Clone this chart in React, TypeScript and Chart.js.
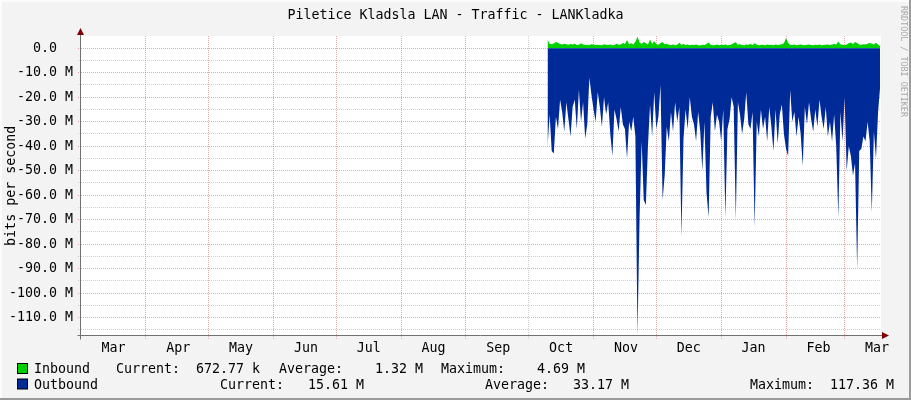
import React, { useEffect, useRef } from 'react';
import { Chart, registerables } from 'chart.js';

Chart.register(...registerables);

// ---------- text ----------
const TITLE = 'Piletice Kladsla LAN - Traffic - LANKladka';
const Y_TITLE = 'bits per second';
const WATERMARK = 'RRDTOOL / TOBI OETIKER';

// ---------- x axis (days since 1 March of the first year) ----------
const X_MAX_DAY = 382.4;
const MONTH_START_DAYS = [31, 61, 92, 122, 153, 184, 214, 245, 275, 306, 337, 365];
const GREY_MONTH_DAYS = [214];
const MONTH_LABELS = ['Mar', 'Apr', 'May', 'Jun', 'Jul', 'Aug', 'Sep', 'Oct', 'Nov', 'Dec', 'Jan', 'Feb', 'Mar'];
const MONTH_LABEL_DAYS = [15.5, 46.5, 76.5, 107.5, 137.5, 168.5, 199.5, 229.5, 260.5, 290.5, 321.5, 352.5, 380.5];

// ---------- y axis (M bits per second) ----------
const Y_MIN = -117.36;
const Y_MAX = 5;
const Y_TICKS = [0, -5, -10, -15, -20, -25, -30, -35, -40, -45, -50, -55, -60, -65, -70, -75, -80, -85, -90, -95, -100, -105, -110, -115];

// ---------- data: one value per day, first day = 223 ----------
const DATA_START_DAY = 223;
const INBOUND = [
  3.6, 1.8, 1.6, 1.9, 2.5, 2.2, 1.7, 1.5, 1.8, 1.6,
  1.4, 1.7, 1.5, 1.8, 1.3, 1.4, 2.0, 1.5, 1.3, 1.4,
  1.3, 1.6, 1.5, 1.3, 1.4, 1.3, 1.2, 1.6, 1.4, 1.3,
  1.5, 1.2, 1.3, 1.8, 1.4, 1.5, 2.1, 1.7, 3.4, 1.6,
  2.0, 1.5, 2.7, 4.69, 2.3, 1.8, 2.5, 2.0, 1.5, 3.6,
  1.8, 2.9, 1.7, 1.4, 2.0, 2.6, 1.6, 1.8, 1.4, 1.3,
  1.5, 1.2, 1.4, 2.2, 1.4, 1.7, 1.3, 1.5, 1.2, 1.4,
  1.3, 1.5, 1.2, 1.1, 1.4, 1.3, 1.7, 2.3, 1.4, 1.2,
  1.3, 1.5, 1.2, 1.4, 1.3, 1.5, 1.2, 1.3, 1.5, 2.1,
  2.4, 1.4, 1.6, 1.3, 1.2, 1.5, 1.4, 1.7, 1.3, 2.0,
  1.5, 1.2, 1.3, 1.4, 1.2, 1.5, 1.3, 1.4, 1.2, 1.5,
  1.3, 1.4, 1.6, 2.0, 4.2, 2.1, 1.4, 1.3, 1.5, 1.2,
  1.4, 1.5, 1.3, 1.2, 1.4, 1.5, 1.3, 1.2, 1.4, 1.3,
  1.5, 1.2, 1.3, 1.4, 1.5, 1.3, 1.5, 1.7, 1.5, 2.8,
  1.6, 1.4, 1.3, 1.5, 2.0, 2.3, 1.7, 2.6, 2.1, 1.5,
  1.4, 1.6, 1.5, 1.8, 2.1, 1.9, 1.5, 2.2, 1.5, 0.67,
];
const OUTBOUND = [
  40.5, 27, 42, 43, 28, 33, 21, 26, 34, 22,
  29, 36, 24, 21, 33, 17, 30, 22, 37, 31,
  12, 19, 25, 30, 18, 24, 32, 20, 27, 22,
  35, 44, 25, 29, 34, 24, 31, 33, 45, 30,
  34, 28, 36, 117.36, 69, 38, 62, 64, 40, 23,
  36, 18, 33, 28, 15, 62, 52, 32, 38, 26,
  34, 22, 30, 24, 77, 37, 25, 33, 20, 28,
  31, 38, 26, 34, 50, 30, 59, 69, 28, 22,
  34, 27, 30, 38, 25, 69, 33, 29, 20, 24,
  70, 22, 27, 35, 29, 18, 31, 33, 26, 73,
  30, 36, 25, 33, 28, 38, 24, 32, 42, 25,
  39, 27, 23, 35, 41, 44, 17, 30, 26, 36,
  28, 35, 48, 24, 31, 22, 29, 34, 25, 32,
  21, 28, 33, 24, 36, 30, 38, 27, 40, 69,
  26, 38, 20, 50, 40, 44, 52, 47, 90, 42,
  41, 36, 38, 30, 38, 67, 34, 45, 26, 15.61,
];

// ---------- legend ----------
const SERIES_NAMES = ['Inbound', 'Outbound'];
const SERIES_COLORS = ['#00CF00', '#002A97'];
const INBOUND_STATS = ['672.77 k', '1.32 M', '4.69 M'];
const OUTBOUND_STATS = ['15.61 M', '33.17 M', '117.36 M'];

const FONT_FAMILY = '"DejaVu Sans Mono", monospace';
const FONT_SIZE = 13.3;
const MAJOR_GRID = 'rgba(220, 60, 60, 0.45)';
const MINOR_GRID = 'rgba(150, 150, 150, 0.45)';

const CHART_LEFT = 81;
const CHART_TOP = 36;
const CHART_BOTTOM = 335.7;
const CHART_RIGHT = 881;
const W = 911;
const H = 400;

const decorPlugin = {
  id: 'rrdDecor',
  beforeDraw(chart: any) {
    const { ctx, chartArea } = chart;
    ctx.save();
    ctx.fillStyle = '#F3F3F3';
    ctx.fillRect(0, 0, W, H);
    // 3d frame
    ctx.fillStyle = '#FCFCFC';
    ctx.fillRect(0, 0, W, 2);
    ctx.fillRect(0, 0, 2, H);
    ctx.fillStyle = '#9B9B9B';
    ctx.fillRect(0, H - 2, W, 2);
    ctx.fillRect(W - 2, 0, 2, H);
    ctx.fillStyle = '#FFFFFF';
    ctx.fillRect(chartArea.left, chartArea.top, chartArea.right - chartArea.left, chartArea.bottom - chartArea.top);
    ctx.restore();
  },
  afterDraw(chart: any) {
    const { ctx, chartArea } = chart;
    const font = `${FONT_SIZE}px ${FONT_FAMILY}`;
    ctx.save();
    // axes
    ctx.strokeStyle = '#707070';
    ctx.lineWidth = 1;
    const yAxisX = Math.round(chartArea.left) - 0.5;
    const xAxisY = Math.round(chartArea.bottom) - 0.5;
    ctx.beginPath();
    ctx.moveTo(yAxisX, 30);
    ctx.lineTo(yAxisX, xAxisY + 4);
    ctx.moveTo(yAxisX - 3, xAxisY);
    ctx.lineTo(chartArea.right + 2, xAxisY);
    ctx.stroke();
    // arrows
    ctx.fillStyle = '#7F0000';
    ctx.beginPath();
    ctx.moveTo(yAxisX - 3.5, 35);
    ctx.lineTo(yAxisX + 3.5, 35);
    ctx.lineTo(yAxisX, 28);
    ctx.closePath();
    ctx.fill();
    ctx.beginPath();
    ctx.moveTo(chartArea.right + 1, xAxisY - 3.5);
    ctx.lineTo(chartArea.right + 1, xAxisY + 3.5);
    ctx.lineTo(chartArea.right + 8, xAxisY);
    ctx.closePath();
    ctx.fill();

    // title
    ctx.fillStyle = '#000';
    ctx.font = font;
    ctx.textAlign = 'center';
    ctx.textBaseline = 'alphabetic';
    ctx.fillText(TITLE, W / 2, 19);

    // y title
    ctx.save();
    ctx.translate(15, (chartArea.top + chartArea.bottom) / 2);
    ctx.rotate(-Math.PI / 2);
    ctx.textAlign = 'center';
    ctx.fillText(Y_TITLE, 0, 0);
    ctx.restore();

    // watermark
    ctx.save();
    ctx.translate(903, 6);
    ctx.rotate(Math.PI / 2);
    ctx.font = `8.4px ${FONT_FAMILY}`;
    ctx.fillStyle = '#A8A8A8';
    ctx.textAlign = 'left';
    ctx.textBaseline = 'middle';
    ctx.fillText(WATERMARK, 0, 0);
    ctx.restore();

    // legend
    ctx.font = font;
    ctx.textAlign = 'left';
    ctx.textBaseline = 'alphabetic';
    const rows = [
      { y: 373, boxY: 363.5, parts: [[34, SERIES_NAMES[0]], [116, 'Current:  ' + INBOUND_STATS[0]], [279, 'Average:    ' + INBOUND_STATS[1]], [441, 'Maximum:    ' + INBOUND_STATS[2]]] },
      { y: 388.5, boxY: 379, parts: [[34, SERIES_NAMES[1]], [220, 'Current:   ' + OUTBOUND_STATS[0]], [485, 'Average:   ' + OUTBOUND_STATS[1]], [750, 'Maximum:  ' + OUTBOUND_STATS[2]]] },
    ];
    rows.forEach((row, i) => {
      ctx.fillStyle = SERIES_COLORS[i];
      ctx.fillRect(17.5, row.boxY, 10, 10);
      ctx.strokeStyle = '#000';
      ctx.strokeRect(17.5, row.boxY, 10, 10);
      ctx.fillStyle = '#000';
      row.parts.forEach(([x, t]) => ctx.fillText(t as string, x as number, row.y));
    });
    ctx.restore();
  },
};

export default function App() {
  const ref = useRef<HTMLCanvasElement | null>(null);

  useEffect(() => {
    document.body.style.margin = '0';
    const canvas = ref.current;
    if (!canvas) return;

    const outboundPts = OUTBOUND.map((v, i) => ({ x: DATA_START_DAY + i, y: -v }));
    const inboundPts = INBOUND.map((v, i) => ({ x: DATA_START_DAY + i, y: v }));

    const isMonthStart = (v: number) => MONTH_START_DAYS.includes(v);
    const labelIdx = (v: number) => MONTH_LABEL_DAYS.findIndex((d) => Math.abs(d - v) < 1e-6);

    const chart = new Chart(canvas, {
      type: 'line',
      data: {
        datasets: [
          {
            label: SERIES_NAMES[1],
            data: outboundPts,
            backgroundColor: SERIES_COLORS[1],
            borderColor: SERIES_COLORS[1],
            borderWidth: 0,
            pointRadius: 0,
            fill: 'origin',
            tension: 0,
          },
          {
            label: SERIES_NAMES[0],
            data: inboundPts,
            backgroundColor: SERIES_COLORS[0],
            borderColor: SERIES_COLORS[0],
            borderWidth: 0,
            pointRadius: 0,
            fill: 'origin',
            tension: 0,
          },
        ],
      },
      options: {
        animation: false,
        responsive: false,
        devicePixelRatio: 1,
        events: [],
        layout: { padding: { left: 0, top: CHART_TOP, right: W - CHART_RIGHT, bottom: 0 } },
        plugins: { legend: { display: false }, tooltip: { enabled: false }, title: { display: false } },
        scales: {
          x: {
            type: 'linear',
            min: 0,
            max: X_MAX_DAY,
            z: 1,
            afterFit: (scale: any) => {
              scale.height = H - CHART_BOTTOM;
            },
            afterBuildTicks: (scale: any) => {
              const vals = [...MONTH_START_DAYS, ...MONTH_LABEL_DAYS].sort((a, b) => a - b);
              scale.ticks = vals.map((v) => ({ value: v }));
            },
            grid: {
              color: (c: any) => {
                const v = c.tick ? c.tick.value : NaN;
                if (!isMonthStart(v)) return 'rgba(0,0,0,0)';
                return GREY_MONTH_DAYS.includes(v) ? MINOR_GRID : MAJOR_GRID;
              },
              lineWidth: 1,
              tickLength: 3,
              tickBorderDash: [1, 1],
            },
            border: { display: false, dash: [1, 1] },
            ticks: {
              autoSkip: false,
              maxRotation: 0,
              minRotation: 0,
              padding: 2,
              color: '#000',
              font: { family: FONT_FAMILY, size: FONT_SIZE },
              callback: (v: any) => {
                const i = labelIdx(Number(v));
                return i >= 0 ? MONTH_LABELS[i] : '';
              },
            },
          },
          y: {
            type: 'linear',
            min: Y_MIN,
            max: Y_MAX,
            z: 1,
            afterFit: (scale: any) => {
              scale.width = CHART_LEFT;
            },
            afterBuildTicks: (scale: any) => {
              scale.ticks = Y_TICKS.slice().sort((a, b) => a - b).map((v) => ({ value: v }));
            },
            grid: {
              color: (c: any) => {
                const v = c.tick ? c.tick.value : NaN;
                return v % 10 === 0 ? MAJOR_GRID : MINOR_GRID;
              },
              lineWidth: 1,
              tickLength: 3,
              tickBorderDash: [1, 1],
            },
            border: { display: false, dash: [1, 1] },
            ticks: {
              autoSkip: false,
              padding: 5,
              color: '#000',
              font: { family: FONT_FAMILY, size: FONT_SIZE },
              callback: (v: any) => {
                const n = Number(v);
                if (n % 10 !== 0) return '';
                return n === 0 ? '0.0  ' : `${n.toFixed(1)} M`;
              },
            },
          },
        },
      },
      plugins: [decorPlugin],
    } as any);

    return () => chart.destroy();
  }, []);

  return (
    <div style={{ width: W, height: H }}>
      <canvas ref={ref} width={W} height={H} style={{ display: 'block', width: W, height: H }} />
    </div>
  );
}
